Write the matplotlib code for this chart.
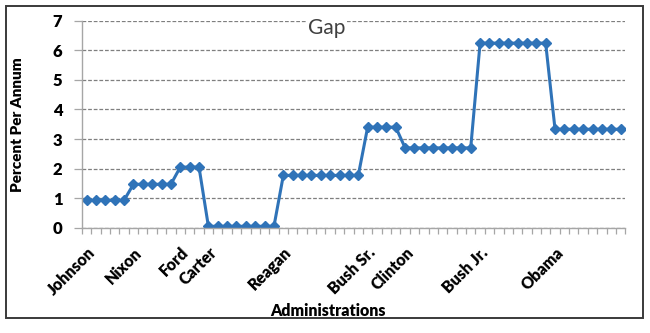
import numpy as np
import matplotlib.pyplot as plt
from matplotlib.patches import Rectangle

# gap per year, grouped by administration
admins = ["Johnson", "Nixon", "Ford", "Carter", "Reagan",
          "Bush Sr.", "Clinton", "Bush Jr.", "Obama"]
years_in_office = [5, 5, 3, 8, 9, 4, 8, 8, 8]
gap_values = [0.93, 1.47, 2.05, 0.05, 1.77, 3.40, 2.70, 6.24, 3.33]

y = np.repeat(gap_values, years_in_office)
x = np.arange(len(y))
label_pos = np.concatenate([[0], np.cumsum(years_in_office)[:-1]])

plt.rcParams['font.family'] = ['Lato', 'DejaVu Sans']

fig = plt.figure(figsize=(6.5, 3.33), dpi=100)
ax = fig.add_axes([0.126, 0.316, 0.836, 0.622])

# outer frame
fig.patches.append(Rectangle((0.009, 0.045), 0.98, 0.937, transform=fig.transFigure,
                             fill=False, edgecolor='#3a3a3a', linewidth=1.4))

ax.plot(x, y, color='#2f73b8', linewidth=2.2, marker='D', markersize=5.5)

ax.set_xlim(-0.5, len(y) - 0.5)
ax.set_ylim(0, 7)
ax.set_yticks(range(8))
ax.yaxis.grid(True, linestyle=(0, (3, 1.5)), color='#7f7f7f', linewidth=0.9)
ax.set_axisbelow(True)

ax.set_xticks(label_pos, admins, rotation=45, ha='right', rotation_mode='anchor',
              fontweight='heavy', fontsize=11.5)
ax.set_xticks(np.arange(-0.5, len(y)), minor=True)
ax.tick_params(axis='x', which='major', length=0, pad=12)
ax.tick_params(axis='x', which='minor', length=4, color='#a6a6a6', width=0.9)
ax.tick_params(axis='y', length=6, color='#a6a6a6', width=0.9, pad=8, labelsize=12)
for lab in ax.get_yticklabels():
    lab.set_fontweight('heavy')

for s in ['top', 'right']:
    ax.spines[s].set_visible(False)
for s in ['left', 'bottom']:
    ax.spines[s].set_color('#a6a6a6')
    ax.spines[s].set_linewidth(1.0)

ax.set_ylabel("Percent Per Annum", fontweight='heavy', fontsize=11)
ax.yaxis.set_label_coords(-0.107, 0.5)
fig.text(0.505, 0.067, "Administrations", ha='center', va='center',
         fontweight='heavy', fontsize=11.5)
fig.text(0.503, 0.917, "Gap", ha='center', va='center', fontsize=15, color='#404040',
         bbox=dict(facecolor='white', edgecolor='none', pad=1))

plt.savefig("out.png", dpi=100)
